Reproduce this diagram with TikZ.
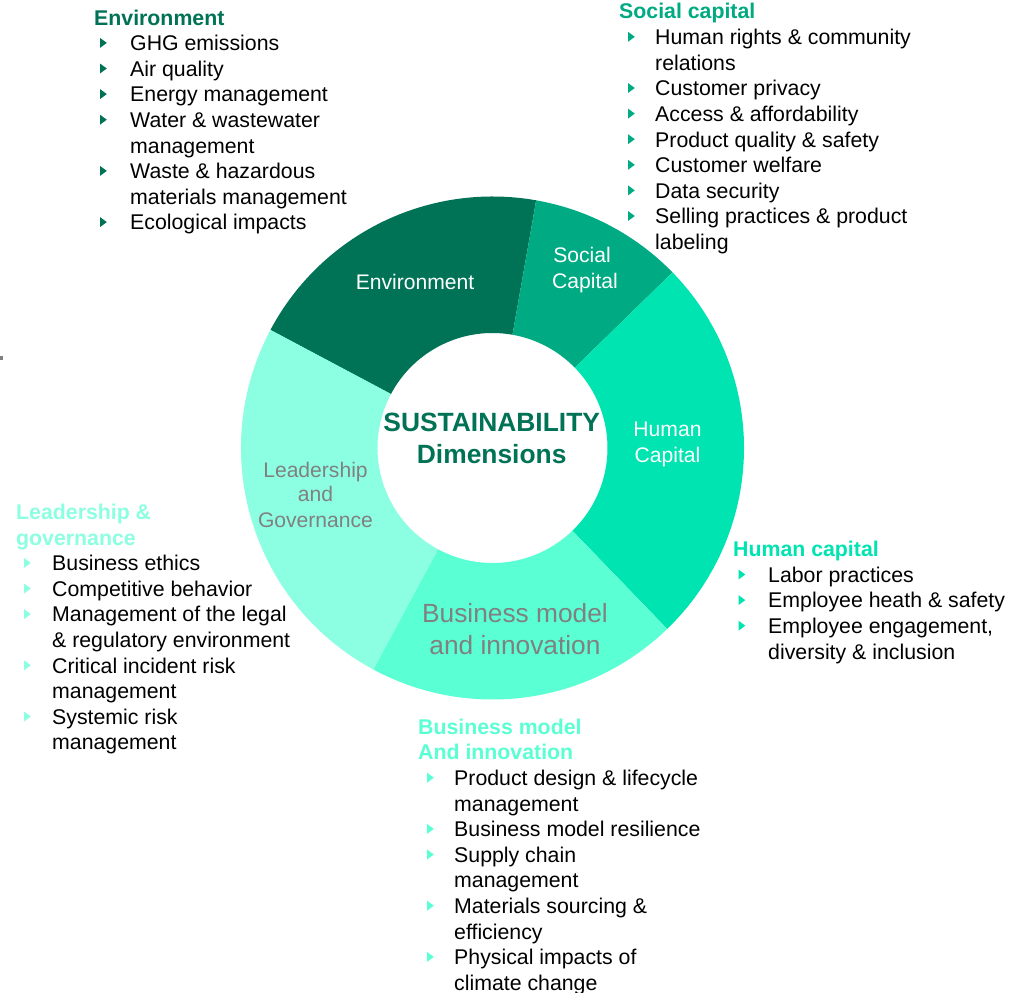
\documentclass[tikz,border=0pt]{standalone}
\usepackage{fontspec}
\setmainfont{Liberation Sans}
\definecolor{envc}{RGB}{0,115,86}
\definecolor{socc}{RGB}{0,170,130}
\definecolor{humc}{RGB}{0,228,178}
\definecolor{busc}{RGB}{90,255,212}
\definecolor{leac}{RGB}{140,255,226}
\definecolor{lblgray}{RGB}{128,128,128}
\newcommand\blockitems[6]{%
  \foreach \itxt/\ib [count=\i] in {#6} {%
    \node[itemtxt, anchor=base west] (#1\i) at (#4, {-(#5)-(\i-1)*25.6}) {\itxt};
    \ifnum\ib=1
      \fill[#2] (#3, {-(#5)-(\i-1)*25.6+2.8}) -- ++(0,10) -- ++(6.8,-5) -- cycle;
    \fi
  }%
}
\begin{document}
\begin{tikzpicture}[x=1pt,y=1pt,
  itemtxt/.style={inner sep=0pt, font=\fontsize{21.3}{25.6}\selectfont, text=black},
  headtxt/.style={inner sep=0pt, font=\fontsize{21.3}{25.6}\selectfont\bfseries, anchor=base west},
  seglbl/.style={inner sep=0pt, font=\fontsize{21.1}{25}\selectfont, anchor=base},
  biglbl/.style={inner sep=0pt, font=\fontsize{26.3}{31}\selectfont, anchor=base},
  centerlbl/.style={inner sep=0pt, font=\fontsize{26.4}{31}\selectfont\bfseries, anchor=base, text=envc}
]
\useasboundingbox (0,0) rectangle (1012,-993);
\fill[white] (0,0) rectangle (1012,-993);
\fill[lblgray] (0,-356) rectangle (3,-360);

% donut
\coordinate (C) at (492.5,-448);
\begin{scope}[shift={(C)}]
  \def\Ro{251.5}\def\Ri{115}
  \fill[envc] (80:\Ro) arc[start angle=80, end angle=152, radius=\Ro] -- (152:\Ri) arc[start angle=152, end angle=80, radius=\Ri] -- cycle;
  \fill[socc] (44.3:\Ro) arc[start angle=44.3, end angle=80, radius=\Ro] -- (80:\Ri) arc[start angle=80, end angle=44.3, radius=\Ri] -- cycle;
  \fill[humc] (-46:\Ro) arc[start angle=-46, end angle=44.3, radius=\Ro] -- (44.3:\Ri) arc[start angle=44.3, end angle=-46, radius=\Ri] -- cycle;
  \fill[busc] (-118.3:\Ro) arc[start angle=-118.3, end angle=-46, radius=\Ro] -- (-46:\Ri) arc[start angle=-46, end angle=-118.3, radius=\Ri] -- cycle;
  \fill[leac] (152:\Ro) arc[start angle=152, end angle=241.7, radius=\Ro] -- (241.7:\Ri) arc[start angle=241.7, end angle=152, radius=\Ri] -- cycle;
\end{scope}

% segment labels
\node[seglbl, text=white] (lenv) at (415,-289.9) {Environment};
\node[seglbl, text=white] (lsoc1) at (582,-262.8) {Social};
\node[seglbl, text=white] (lsoc2) at (585,-288.9) {Capital};
\node[seglbl, text=white] (lhum1) at (667.5,-436.7) {Human};
\node[seglbl, text=white] (lhum2) at (667.5,-462.7) {Capital};
\node[seglbl, text=lblgray] (llea1) at (315.5,-477.5) {Leadership};
\node[seglbl, text=lblgray] (llea2) at (315.5,-501.8) {and};
\node[seglbl, text=lblgray] (llea3) at (315.5,-527.3) {Governance};
\node[biglbl, text=lblgray] (lbus1) at (515,-622.7) {Business model};
\node[biglbl, text=lblgray] (lbus2) at (515,-654) {and innovation};
\node[centerlbl] (ctr1) at (491.7,-431.9) {SUSTAINABILITY};
\node[centerlbl] (ctr2) at (491.7,-463.3) {Dimensions};

% Environment block
\node[headtxt, text=envc] (henv) at (94,-25) {Environment};
\blockitems{env}{envc}{100}{130}{50.7}{GHG emissions/1, Air quality/1, Energy management/1, Water \& wastewater/1, management/0, Waste \& hazardous/1, materials management/0, Ecological impacts/1}

% Social capital block
\node[headtxt, text=socc] (hsoc) at (619,-19) {Social capital};
\blockitems{soc}{socc}{628}{655}{44.6}{Human rights \& community/1, relations/0, Customer privacy/1, Access \& affordability/1, Product quality \& safety/1, Customer welfare/1, Data security/1, Selling practices \& product/1, labeling/0}

% Leadership block
\node[headtxt, text=leac] (hlea1) at (16,-519.5) {Leadership \&};
\node[headtxt, text=leac] (hlea2) at (16,-545.1) {governance};
\blockitems{lea}{leac}{24}{52}{570.7}{Business ethics/1, Competitive behavior/1, Management of the legal/1, \& regulatory environment/0, Critical incident risk/1, management/0, Systemic risk/1, management/0}

% Human capital block
\node[headtxt, text=humc] (hhum) at (733,-556.7) {Human capital};
\blockitems{hum}{humc}{738.5}{768}{582.3}{Labor practices/1, Employee heath \& safety/1, Employee engagement{,}/1, diversity \& inclusion/0}

% Business model block
\node[headtxt, text=busc] (hbus1) at (418,-734.3) {Business model};
\node[headtxt, text=busc] (hbus2) at (418,-759.9) {And innovation};
\blockitems{bus}{busc}{427}{454}{785.5}{Product design \& lifecycle/1, management/0, Business model resilience/1, Supply chain/1, management/0, Materials sourcing \&/1, efficiency/0, Physical impacts of/1, climate change/0}
\end{tikzpicture}
\end{document}
